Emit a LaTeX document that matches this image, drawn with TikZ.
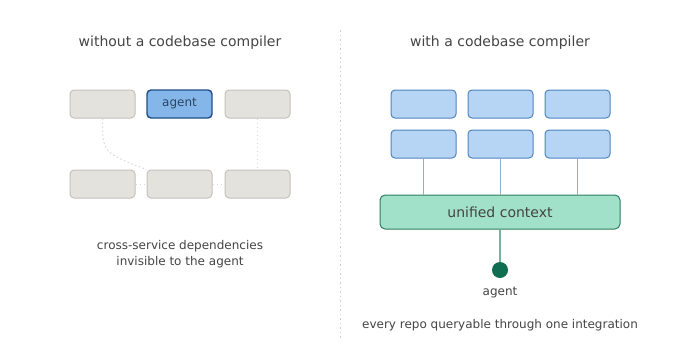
\documentclass[tikz,border=0pt]{standalone}
\usepackage{fontspec}
\usetikzlibrary{calc}
\setmainfont{DejaVu Sans}
\definecolor{txt}{HTML}{444444}
\definecolor{grayfill}{HTML}{E4E2DD}
\definecolor{grayline}{HTML}{C4C2BC}
\definecolor{agentfill}{HTML}{85B6E9}
\definecolor{agentline}{HTML}{1F4E84}
\definecolor{agenttext}{HTML}{2B4460}
\definecolor{bluefill}{HTML}{B6D4F4}
\definecolor{blueline}{HTML}{5084BE}
\definecolor{conn}{HTML}{8EAFCB}
\definecolor{unifill}{HTML}{A1E1C9}
\definecolor{uniline}{HTML}{2F7C60}
\definecolor{agline}{HTML}{78B39D}
\definecolor{agdot}{HTML}{0F6E52}
\definecolor{dep}{HTML}{D8D8D2}
\definecolor{divider}{HTML}{D0D0D0}
\begin{document}
\begin{tikzpicture}[x=1pt,y=-1pt,
  every node/.style={text=txt, inner sep=0pt},
  graybox/.style={draw=grayline, fill=grayfill, line width=1pt, rounded corners=4pt, minimum width=65pt, minimum height=28pt},
  agentbox/.style={draw=agentline, fill=agentfill, line width=1.4pt, rounded corners=4pt, minimum width=65pt, minimum height=28pt, text=agenttext, font=\fontsize{12}{14}\selectfont},
  bluebox/.style={draw=blueline, fill=bluefill, line width=1pt, rounded corners=4pt, minimum width=65pt, minimum height=28pt},
  unibox/.style={draw=uniline, fill=unifill, line width=1pt, rounded corners=5pt, minimum width=240pt, minimum height=34pt, font=\fontsize{14}{16}\selectfont},
  title/.style={font=\fontsize{14}{16}\selectfont},
  caption/.style={font=\fontsize{12}{16.5}\selectfont, align=center},
  smalltext/.style={font=\fontsize{12}{14}\selectfont},
  depline/.style={draw=dep, line width=1pt, dash pattern=on 1.5pt off 2.5pt},
  connline/.style={draw=conn, line width=1.4pt},
]
\useasboundingbox (0,0) rectangle (680,360);
% divider
\coordinate (d1) at (340,30);
\coordinate (d2) at (340,340);
\draw[draw=divider, line width=1pt, dash pattern=on 1.5pt off 3pt] (d1) -- (d2);

% left panel
\node[title] (tl) at (180,43) {without a codebase compiler};
\node[graybox] (g1) at (102.5,104) {};
\node[agentbox] (g2) at (179.5,104) {agent};
\node[graybox] (g3) at (257.5,104) {};
\node[graybox] (g4) at (102.5,184) {};
\node[graybox] (g5) at (179.5,184) {};
\node[graybox] (g6) at (257.5,184) {};
\draw[depline] (g1.south) .. controls ($(g1.south)+(0,34)$) .. (g5.north west);
\draw[depline] (g3.south) -- (g6.north);
\draw[depline] (g4.east) -- (g5.west);
\draw[depline] (g5.east) -- (g6.west);
\node[caption] (cl) at (180,254) {cross-service dependencies\\invisible to the agent};

% right panel
\node[title] (tr) at (500,43) {with a codebase compiler};
\node[bluebox] (b1) at (423.5,104) {};
\node[bluebox] (b2) at (500.5,104) {};
\node[bluebox] (b3) at (577.5,104) {};
\node[bluebox] (b4) at (423.5,144) {};
\node[bluebox] (b5) at (500.5,144) {};
\node[bluebox] (b6) at (577.5,144) {};
\node[unibox] (u) at (500,212) {unified context};
\draw[connline] (b4.south) -- (b4.south |- u.north);
\draw[connline] (b5.south) -- (b5.south |- u.north);
\draw[connline] (b6.south) -- (b6.south |- u.north);
\node[circle, fill=agdot, minimum size=16pt] (ag) at (500,270) {};
\draw[draw=agline, line width=1.4pt] (u.south) -- (ag.north);
\node[smalltext] (agl) at (500,292.5) {agent};
\node[smalltext] (cr) at (500,325) {every repo queryable through one integration};
\end{tikzpicture}
\end{document}
